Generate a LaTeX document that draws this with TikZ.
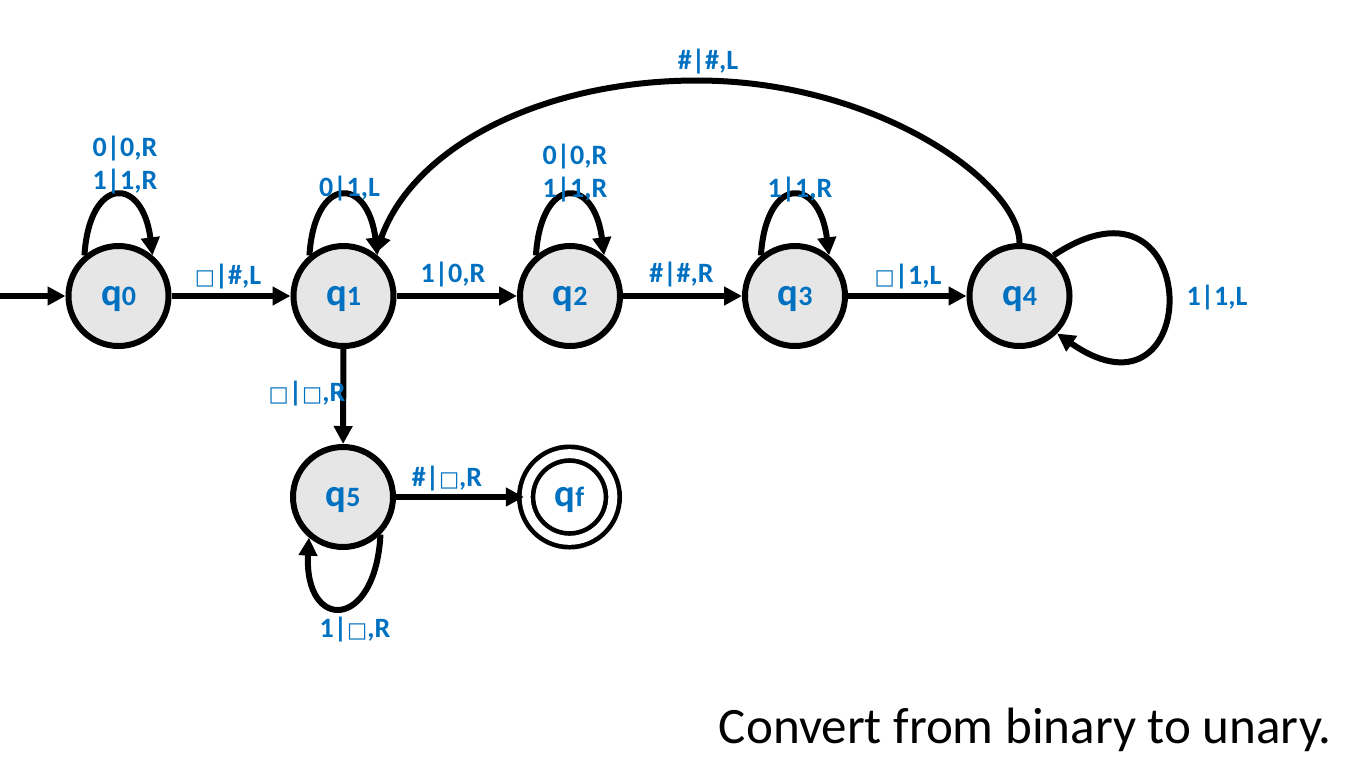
\documentclass[tikz,border=0pt]{standalone}
\usepackage{fontspec}
\setmainfont{Carlito}
\newfontfamily\boxfont{DejaVu Sans}
\usetikzlibrary{arrows.meta}
\definecolor{lblue}{HTML}{0070C0}
\definecolor{sgray}{HTML}{E6E6E6}
\newcommand{\blk}{{\boxfont\fontsize{16}{16}\selectfont □}}
\newcommand{\qname}[1]{q{\fontsize{21}{21}\selectfont #1}}
\tikzset{tmstate/.style = {circle, draw, line width=4.5pt, fill=sgray, minimum size=75pt, inner sep=0pt, text depth=0pt, text=lblue, font=\bfseries\fontsize{29}{29}\selectfont}}
\tikzset{accept/.style = {tmstate, fill=white, double, double distance=6.75pt, line width=3.5pt, minimum size=65pt}}
\tikzset{lbl/.style = {text=lblue, font=\bfseries\fontsize{21}{24.4}\selectfont, inner sep=0pt, align=center}}
\tikzset{tr/.style = {line width=4.5pt, -{Triangle[length=13.5pt,width=13.5pt]}}}

\begin{document}
\begin{tikzpicture}[x=0.75pt, y=-0.75pt]
    \useasboundingbox (0,0) rectangle (1360,768);
    \node[tmstate] (q0) at (118.5,296) {\qname{0}};
    \node[tmstate] (q1) at (343.5,296) {\qname{1}};
    \node[tmstate] (q2) at (570,296) {\qname{2}};
    \node[tmstate] (q3) at (795,296) {\qname{3}};
    \node[tmstate] (q4) at (1019.5,296) {\qname{4}};
    \node[tmstate] (q5) at (343,497) {\qname{5}};
    \node[accept] (qf) at (569.5,497) {\qname{f}};
    \coordinate (start) at (0,296);
    \coordinate (top) at (697,80.5);

    \draw[tr] (start) -- (q0);
    \draw[tr] (q0) -- (q1);
    \draw[tr] (q1) -- (q2);
    \draw[tr] (q2) -- (q3);
    \draw[tr] (q3) -- (q4);
    \draw[tr] (q1) -- (q5);
    \draw[tr] (q5) -- (qf);

    % loops
    \draw[tr] (q0.130) .. controls +(5,-80) and +(-10,-80) .. (q0.50);
    \draw[tr] (q1.130) .. controls +(5,-80) and +(-10,-80) .. (q1.50);
    \draw[tr] (q2.130) .. controls +(5,-80) and +(-10,-80) .. (q2.50);
    \draw[tr] (q3.130) .. controls +(5,-80) and +(-10,-80) .. (q3.50);
    \draw[tr] (q4.50) .. controls +(152,-101) and +(148,103) .. (q4.-45);
    \draw[tr] (q5.-45) .. controls +(-5,97) and +(-5,94) .. (q5.-130);
    \draw[tr] (q4.north) .. controls +(0,-60) and +(180,0) .. (top)
        .. controls +(-150,0) and +(40,-110) .. (q1.53);

    \node[lbl] (l00) at (125,165) {0|0,R\\1|1,R};
    \node[lbl] (l01) at (228,277) {\blk|\#,L};
    \node[lbl] (l11) at (349.5,188.5) {0|1,L};
    \node[lbl] (l12) at (453,275) {1|0,R};
    \node[lbl] (l22) at (575,173) {0|0,R\\1|1,R};
    \node[lbl] (l23) at (681.5,275) {\#|\#,R};
    \node[lbl] (l33) at (800,190) {1|1,R};
    \node[lbl] (l34) at (908,277) {\blk|1,L};
    \node[lbl] (l44) at (1217,297.5) {1|1,L};
    \node[lbl] (l41) at (708,62) {\#|\#,L};
    \node[lbl] (l15) at (307,394) {\blk|\blk,R};
    \node[lbl] (l5f) at (447,479) {\#|\blk,R};
    \node[lbl] (l55) at (355,630) {1|\blk,R};

    \node[font=\fontsize{38.3}{38.3}\selectfont, inner sep=0pt, anchor=base east] (caption) at (1332,743) {Convert from binary to unary.};
\end{tikzpicture}
\end{document}
